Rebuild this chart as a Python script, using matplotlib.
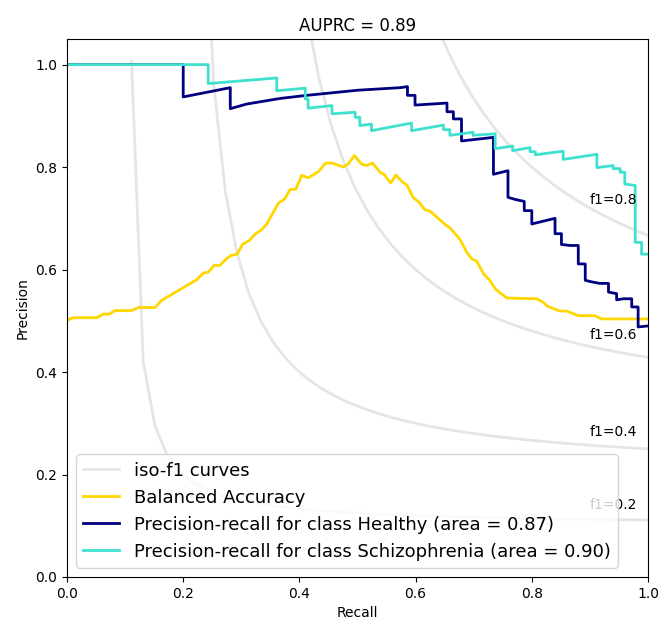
import matplotlib.pyplot as plt
import numpy as np

# precision-recall points
healthy_recall = [0.0, 0.2, 0.2, 0.281, 0.281, 0.309, 0.367, 0.4125, 0.5, 0.573, 0.586,
                  0.586, 0.599, 0.599, 0.654, 0.654, 0.665, 0.665, 0.679, 0.679, 0.734,
                  0.734, 0.759, 0.759, 0.771, 0.787, 0.787, 0.80, 0.80, 0.84, 0.84,
                  0.851, 0.851, 0.866, 0.88, 0.88, 0.892, 0.892, 0.903, 0.917, 0.932,
                  0.932, 0.946, 0.946, 0.958, 0.972, 0.972, 0.983, 0.983, 1.0]
healthy_precision = [1.0, 1.0, 0.937, 0.955, 0.914, 0.923, 0.934, 0.940, 0.950, 0.955, 0.957,
                     0.940, 0.940, 0.921, 0.925, 0.908, 0.908, 0.894, 0.894, 0.851, 0.858,
                     0.786, 0.793, 0.741, 0.737, 0.733, 0.715, 0.715, 0.689, 0.700, 0.670,
                     0.670, 0.649, 0.647, 0.647, 0.611, 0.611, 0.579, 0.576, 0.573, 0.573,
                     0.556, 0.553, 0.541, 0.543, 0.543, 0.527, 0.527, 0.488, 0.490]

schizo_recall = [0.0, 0.243, 0.243, 0.361, 0.361, 0.41, 0.41, 0.415, 0.415, 0.456, 0.456,
                 0.496, 0.496, 0.504, 0.504, 0.524, 0.524, 0.593, 0.593, 0.648, 0.648,
                 0.659, 0.659, 0.699, 0.699, 0.737, 0.737, 0.767, 0.767, 0.797, 0.797,
                 0.806, 0.806, 0.854, 0.854, 0.912, 0.912, 0.940, 0.940, 0.952, 0.952,
                 0.960, 0.960, 0.978, 0.978, 0.989, 0.989, 1.0]
schizo_precision = [1.0, 1.0, 0.963, 0.974, 0.949, 0.954, 0.933, 0.933, 0.915, 0.920, 0.904,
                    0.907, 0.897, 0.897, 0.881, 0.884, 0.871, 0.886, 0.871, 0.882, 0.873,
                    0.873, 0.862, 0.868, 0.862, 0.865, 0.836, 0.841, 0.832, 0.838, 0.830,
                    0.830, 0.824, 0.831, 0.815, 0.825, 0.799, 0.803, 0.797, 0.797, 0.790,
                    0.790, 0.767, 0.764, 0.653, 0.653, 0.630, 0.630]

bacc_recall = [0.0, 0.011, 0.051, 0.0625, 0.073, 0.0826, 0.111, 0.123, 0.1515, 0.163, 0.223,
               0.2346, 0.243, 0.253, 0.263, 0.275, 0.2835, 0.293, 0.302, 0.314, 0.3236,
               0.335, 0.344, 0.364, 0.374, 0.384, 0.394, 0.404, 0.415, 0.4326, 0.445,
               0.4555, 0.4756, 0.484, 0.4945, 0.507, 0.516, 0.526, 0.5387, 0.546, 0.557,
               0.566, 0.576, 0.5857, 0.596, 0.6046, 0.616, 0.6248, 0.639, 0.6506, 0.659,
               0.6764, 0.688, 0.6965, 0.705, 0.7177, 0.727, 0.738, 0.757, 0.8084, 0.817,
               0.828, 0.8485, 0.860, 0.874, 0.880, 0.9088, 0.920, 1.0]
bacc_value = [0.501, 0.506, 0.506, 0.513, 0.513, 0.520, 0.520, 0.526, 0.526, 0.540, 0.580,
              0.593, 0.595, 0.608, 0.608, 0.622, 0.628, 0.630, 0.649, 0.657, 0.669,
              0.678, 0.689, 0.730, 0.737, 0.756, 0.757, 0.784, 0.779, 0.791, 0.8076,
              0.808, 0.800, 0.806, 0.8226, 0.806, 0.803, 0.8076, 0.790, 0.7856, 0.769,
              0.7845, 0.7726, 0.764, 0.740, 0.733, 0.717, 0.714, 0.700, 0.688, 0.6817,
              0.659, 0.634, 0.621, 0.6166, 0.5906, 0.580, 0.5614, 0.5445, 0.543, 0.538,
              0.528, 0.519, 0.519, 0.5127, 0.510, 0.510, 0.5036, 0.5036]

f_scores = [0.2, 0.4, 0.6, 0.8]
auprc = 0.89
area_healthy = 0.87
area_schizo = 0.90

fig = plt.figure(figsize=(6.59, 6.26), dpi=100)
ax = fig.add_axes([0.1017, 0.0783, 0.8816, 0.8594])

lines = []
labels = []
for f_score in f_scores:
    x = np.linspace(0.01, 1)
    y = f_score * x / (2 * x - f_score)
    l, = ax.plot(x[y >= 0], y[y >= 0], color='gray', alpha=0.2, lw=2)
    ax.annotate('f1={0:0.1f}'.format(f_score), xy=(0.9, y[45] + 0.02))
lines.append(l)
labels.append('iso-f1 curves')

l, = ax.plot(bacc_recall, bacc_value, color='gold', lw=2)
lines.append(l)
labels.append('Balanced Accuracy')

l, = ax.plot(healthy_recall, healthy_precision, color='navy', lw=2)
lines.append(l)
labels.append('Precision-recall for class Healthy (area = {0:0.2f})'.format(area_healthy))

l, = ax.plot(schizo_recall, schizo_precision, color='turquoise', lw=2)
lines.append(l)
labels.append('Precision-recall for class Schizophrenia (area = {0:0.2f})'.format(area_schizo))

ax.set_xlim([0.0, 1.0])
ax.set_ylim([0.0, 1.05])
ax.set_xlabel('Recall')
ax.set_ylabel('Precision')
ax.set_title('AUPRC = {0:0.2f}'.format(auprc), fontsize=12)
ax.legend(lines, labels, loc='lower left', prop=dict(size=13))

fig.savefig('out.png', dpi=100)
